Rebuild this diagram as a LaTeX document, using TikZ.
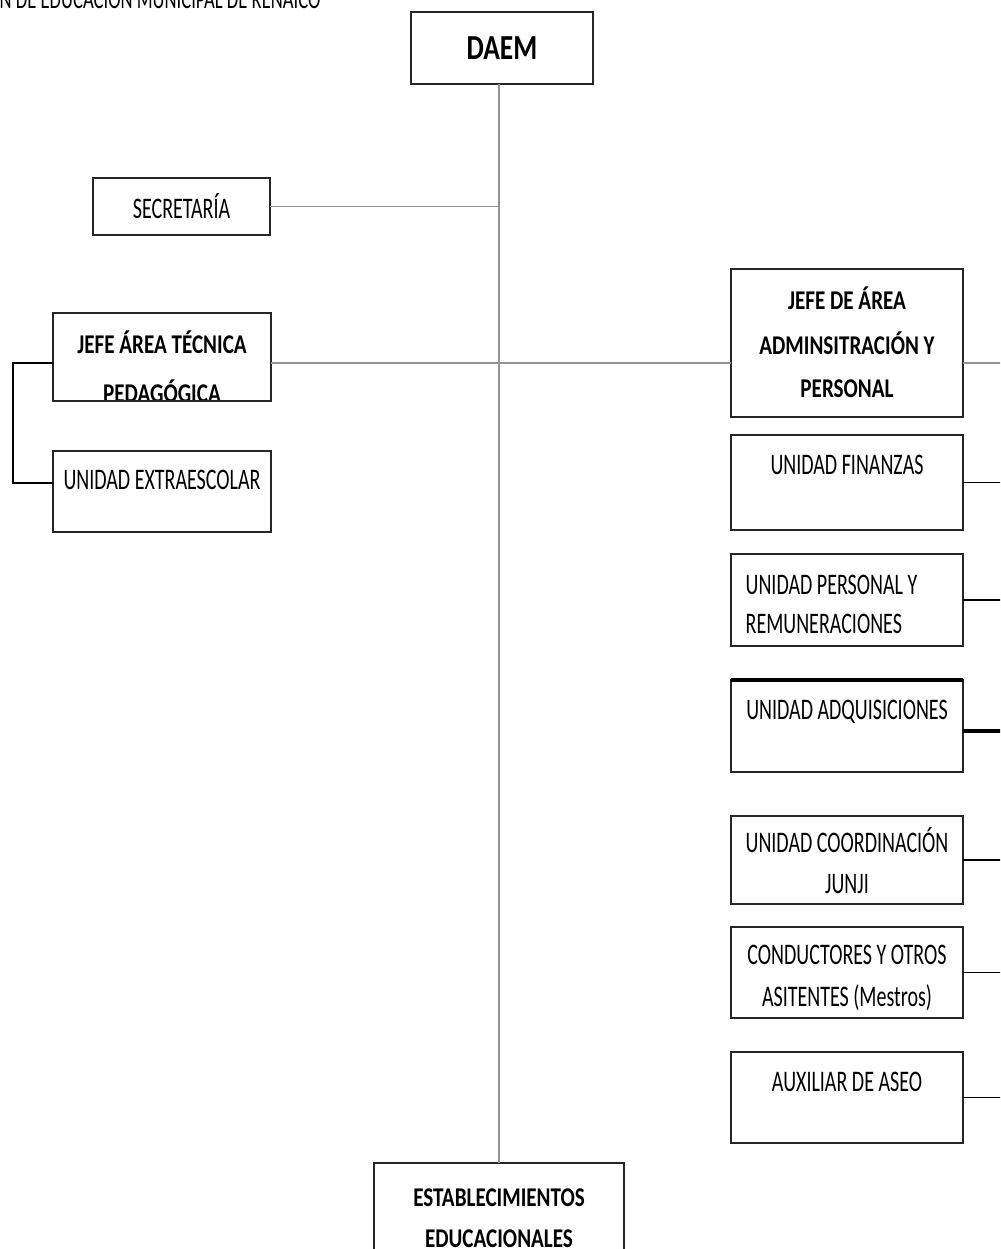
\documentclass[tikz,border=0pt]{standalone}
\usepackage{fontspec}
\setmainfont{Carlito}[FakeStretch=0.67]
\newfontfamily\titlefont{Carlito}[FakeStretch=0.78]

\begin{document}
\begin{tikzpicture}[x=0.1mm, y=-0.1mm,
    box/.style={draw=black!85, line width=0.6pt, inner sep=0pt, outer sep=0pt},
    lbox/.style={box, minimum width=21.8mm},
    rbox/.style={box, minimum width=23.2mm},
    txt/.style={font=\fontsize{8.5}{10}\selectfont, inner sep=0pt, anchor=base},
    head/.style={font=\titlefont\bfseries\fontsize{7.7}{9}\selectfont, inner sep=0pt, anchor=base},
    link/.style={draw=gray!85, line width=0.45pt},
    rlink/.style={draw=black, line width=0.5pt}]
	\useasboundingbox (0,0) rectangle (1000,1249);
	\clip (0,0) rectangle (1000,1249);

	% title line (cut by the page)
	\node[txt, anchor=base west, font=\fontsize{7.9}{9}\selectfont] (title) at (-1,9) {N DE EDUCACIÓN MUNICIPAL DE RENAICO};

	% boxes
	\node[box, minimum width=18.2mm, minimum height=7.2mm] (daem) at (502,48) {};
	\node[box, minimum width=17.7mm, minimum height=5.7mm] (sec) at (181.5,206.5) {};
	\node[lbox, minimum height=8.8mm] (jatp) at (162,357) {};
	\node[lbox, minimum height=8.1mm] (extra) at (162,491.5) {};
	\node[rbox, minimum height=14.8mm] (jaap) at (847,343) {};
	\node[rbox, minimum height=9.5mm] (fin) at (847,482.5) {};
	\node[rbox, minimum height=9.2mm] (pers) at (847,600) {};
	\node[rbox, minimum height=9.2mm] (adq) at (847,726) {};
	\node[rbox, minimum height=8.8mm] (coord) at (847,860) {};
	\node[rbox, minimum height=9.1mm] (cond) at (847,972.5) {};
	\node[rbox, minimum height=9.1mm] (aseo) at (847,1097.5) {};
	\node[box, minimum width=25mm, minimum height=10mm] (est) at (499,1213) {};
	\draw[black, line width=1.2pt] (adq.north west) -- (adq.north east); % heavier top edge

	% box texts
	\node[head, font=\titlefont\bfseries\fontsize{10}{12}\selectfont] (daem-t) at (502,60) {DAEM};
	\node[txt] (sec-t) at (181.5,219) {SECRETARÍA};
	\node[head] (jatp-1) at (162,353) {JEFE ÁREA TÉCNICA};
	\begin{scope}
		\clip (jatp.south west) rectangle (jatp.north east);
		\node[head] (jatp-2) at (162,402.5) {PEDAGÓGICA};
	\end{scope}
	\draw[box] (jatp.south west) -- (jatp.south east); % box edge over the cut text
	\node[txt] (extra-t) at (162,489) {UNIDAD EXTRAESCOLAR};
	\node[head] (jaap-1) at (847,309) {JEFE DE ÁREA};
	\node[head] (jaap-2) at (847,354) {ADMINSITRACIÓN Y};
	\node[head] (jaap-3) at (847,397) {PERSONAL};
	\node[txt] (fin-t) at (847,474) {UNIDAD FINANZAS};
	\node[txt, anchor=base west] (pers-1) at (745,594) {UNIDAD PERSONAL Y};
	\node[txt, anchor=base west] (pers-2) at (745,633) {REMUNERACIONES};
	\node[txt] (adq-t) at (847,719) {UNIDAD ADQUISICIONES};
	\node[txt] (coord-1) at (847,852) {UNIDAD COORDINACIÓN};
	\node[txt] (coord-2) at (847,893) {JUNJI};
	\node[txt] (cond-1) at (847,964) {CONDUCTORES Y OTROS};
	\node[txt] (cond-2) at (847,1006) {ASITENTES (Mestros)};
	\node[txt] (aseo-t) at (847,1091) {AUXILIAR DE ASEO};
	\node[head] (est-1) at (499,1206) {ESTABLECIMIENTOS};
	\node[head] (est-2) at (499,1247) {EDUCACIONALES};

	% connectors
	\coordinate (hline) at (0,363);
	\coordinate (lbar) at (13,0);
	\coordinate (rbar) at (1010,0);
	\coordinate (adq-out) at ([yshift=-0.5mm]adq.east);
	\coordinate (extra-in) at ([yshift=0.85mm]extra.west);
	\draw[link] (est.north) -- (est.north |- daem.south);
	\draw[link] (sec.east) -- (sec.east -| est.north);
	\draw[link] (jatp.east |- hline) -- (jaap.west |- hline);
	\draw[rlink] (jatp.west |- hline) -- (lbar |- hline) |- (extra-in);
	\draw[link] (jaap.east |- hline) -- (rbar |- hline);
	\foreach \n in {fin, pers, coord, cond, aseo}
		\draw[rlink] (\n.east) -- (rbar |- \n.east);
	\draw[rlink, line width=1pt] (adq-out) -- (rbar |- adq-out);
\end{tikzpicture}
\end{document}
